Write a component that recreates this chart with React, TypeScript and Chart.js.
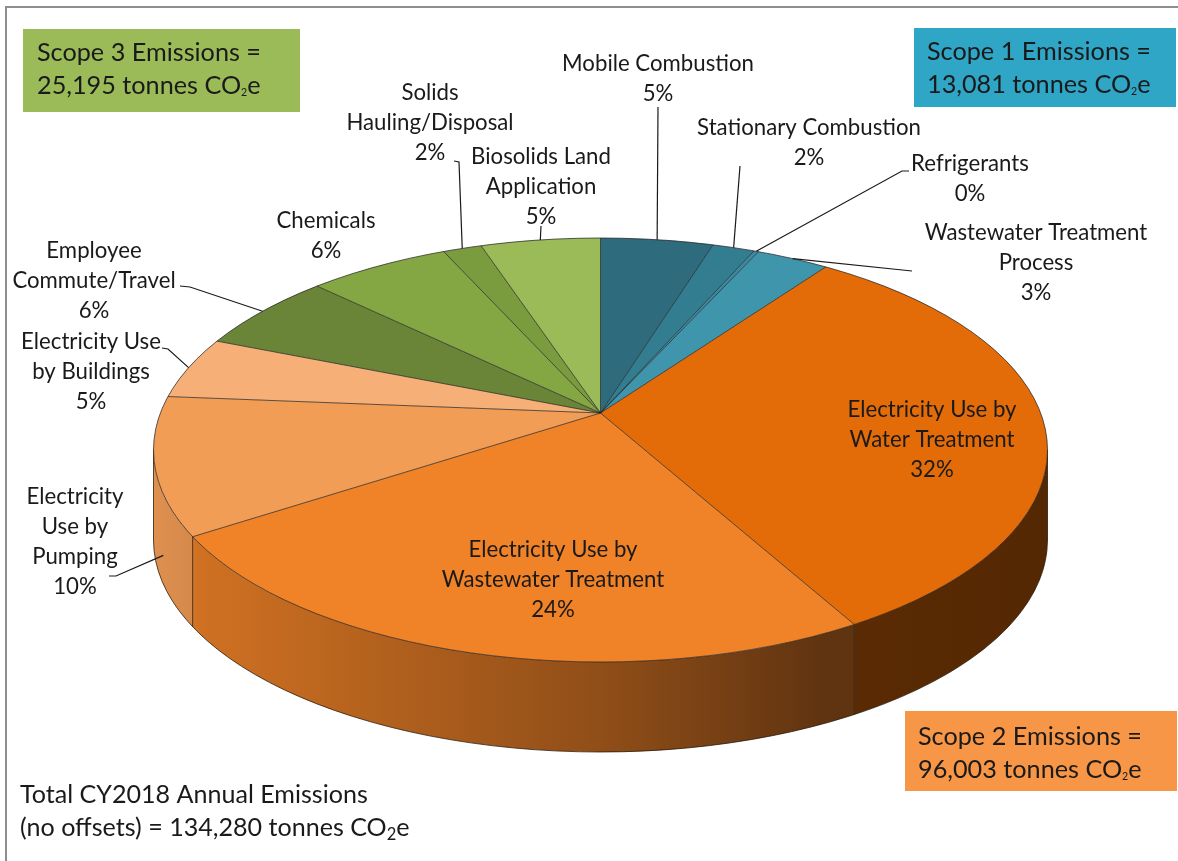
import React, { useEffect, useRef } from "react";
import { Chart, registerables } from "chart.js";

Chart.register(...registerables);

// ---------------- DATA ----------------
const categories = [
  "Mobile Combustion",
  "Stationary Combustion",
  "Refrigerants",
  "Wastewater Treatment Process",
  "Electricity Use by Water Treatment",
  "Electricity Use by Wastewater Treatment",
  "Electricity Use by Pumping",
  "Electricity Use by Buildings",
  "Employee Commute/Travel",
  "Chemicals",
  "Solids Hauling/Disposal",
  "Biosolids Land Application",
];
// share of total emissions (%)
const shares = [4.8, 1.8, 0.2, 3.1, 32.0, 23.9, 10.5, 4.8, 6.1, 6.05, 1.65, 5.1];
const percentText = ["5%", "2%", "0%", "3%", "32%", "24%", "10%", "5%", "6%", "6%", "2%", "5%"];

const scopeNames = ["Scope 1 Emissions =", "Scope 2 Emissions =", "Scope 3 Emissions ="];
const scopeTonnes = ["13,081", "96,003", "25,195"];
const totalTitle = "Total CY2018 Annual Emissions";
const totalTonnes = "134,280";

// ---------------- STYLE / LAYOUT ----------------
const sliceColors = [
  "#2D6B7D", "#327D90", "#3A8AA1", "#3F95AC",
  "#E36C09", "#F08228", "#F29D56", "#F6AF76",
  "#6A8538", "#84A744", "#7A9B3E", "#9BBB59",
];
const scopeColors = ["#2FA6C5", "#F79646", "#9BBB59"];

const W = 1178;
const H = 861;
// top-face ellipse, apex (seen centre) and the direction scaling used for the tilted view
const PIE = {
  cx: 600.5, cy: 450, rx: 447, ry: 212, depth: 90,
  apexX: 600.5, apexY: 413, sx: 555, sy: 258,
};
const wallStops: [number, number][] = [
  [0, 0.92], [0.06, 0.86], [0.5, 0.6], [0.75, 0.4], [1, 0.37],
];
const FAMILY = "Lato, 'Open Sans', 'DejaVu Sans', sans-serif";
const TEXT = "#1a1a1a";
const LINE_GAP = 29.8;

// label line breaks & positions (layout only)
const labelLines: string[][] = [
  ["Mobile Combustion"],
  ["Stationary Combustion"],
  ["Refrigerants"],
  ["Wastewater Treatment", "Process"],
  ["Electricity Use by", "Water Treatment"],
  ["Electricity Use by", "Wastewater Treatment"],
  ["Electricity", "Use by", "Pumping"],
  ["Electricity Use", "by Buildings"],
  ["Employee", "Commute/Travel"],
  ["Chemicals"],
  ["Solids", "Hauling/Disposal"],
  ["Biosolids Land", "Application"],
];
type LabelPos = { x: number; y: number; leader?: [number, number][]; t?: number; drop?: number };
const labelPos: LabelPos[] = [
  { x: 658, y: 64, leader: [[658, 107]], t: 0.5 },
  { x: 809, y: 128, leader: [[740, 166]], t: 0.5 },
  { x: 970, y: 164, leader: [[909, 171], [902, 171]], t: 0.5 },
  { x: 1036, y: 233, leader: [[912, 271]], t: 0.5 },
  { x: 932, y: 410 },
  { x: 553, y: 550 },
  { x: 75, y: 497, leader: [[109, 576], [116, 576]], t: 0.3, drop: 0.68 },
  { x: 91, y: 342, leader: [[162, 348], [168, 349]], t: 0.5 },
  { x: 94, y: 251, leader: [[180, 286], [190, 287]], t: 0.5 },
  { x: 326, y: 221 },
  { x: 430, y: 93, leader: [[454, 161], [459, 162]], t: 0.5 },
  { x: 541, y: 157, leader: [[541, 226]], t: 0.5 },
];
const scopeBoxes = [
  { x: 914, y: 28, w: 262, h: 79, tx: 927, ty: 52 },
  { x: 905, y: 711, w: 272, h: 80, tx: 918, ty: 737 },
  { x: 23, y: 29, w: 277, h: 83, tx: 37, ty: 53 },
];

// ---------------- helpers ----------------
function shade(hex: string, f: number): string {
  const n = parseInt(hex.slice(1), 16);
  const r = Math.round(((n >> 16) & 255) * f);
  const g = Math.round(((n >> 8) & 255) * f);
  const b = Math.round((n & 255) * f);
  return `rgb(${r},${g},${b})`;
}
function fitSize(ctx: CanvasRenderingContext2D, text: string, target: number): number {
  ctx.font = `100px ${FAMILY}`;
  return (100 * target) / ctx.measureText(text).width;
}
// where a slice boundary of library angle a meets the rim; returns x, y and rim parameter
function edgePoint(a: number): [number, number, number] {
  const { cx, cy, rx, ry, apexX, apexY, sx, sy } = PIE;
  const dx = sx * Math.cos(a);
  const dy = sy * Math.sin(a);
  const ox = apexX - cx;
  const oy = apexY - cy;
  const A = (dx / rx) ** 2 + (dy / ry) ** 2;
  const B = 2 * ((ox * dx) / (rx * rx) + (oy * dy) / (ry * ry));
  const C = (ox / rx) ** 2 + (oy / ry) ** 2 - 1;
  const t = (-B + Math.sqrt(B * B - 4 * A * C)) / (2 * A);
  const x = apexX + t * dx;
  const y = apexY + t * dy;
  let phi = Math.atan2((y - cy) / ry, (x - cx) / rx);
  while (phi < a - Math.PI) phi += 2 * Math.PI;
  while (phi > a + Math.PI) phi -= 2 * Math.PI;
  return [x, y, phi];
}
function rim(phi: number, dy = 0): [number, number] {
  return [PIE.cx + PIE.rx * Math.cos(phi), PIE.cy + PIE.ry * Math.sin(phi) + dy];
}
function drawCO2e(
  ctx: CanvasRenderingContext2D, prefix: string, x: number, y: number,
  size: number, subScale: number,
) {
  ctx.textAlign = "left";
  ctx.font = `${size}px ${FAMILY}`;
  const s1 = prefix + "CO";
  ctx.fillText(s1, x, y);
  let cx = x + ctx.measureText(s1).width;
  ctx.font = `${size * subScale}px ${FAMILY}`;
  ctx.fillText("2", cx, y + size * 0.28);
  cx += ctx.measureText("2").width;
  ctx.font = `${size}px ${FAMILY}`;
  ctx.fillText("e", cx, y);
}

const pie3d = {
  id: "pie3d",
  beforeDatasetsDraw(chart: any) {
    const ctx: CanvasRenderingContext2D = chart.ctx;
    const arcs = chart.getDatasetMeta(0).data;
    const { cx, cy, rx, ry, depth } = PIE;
    ctx.save();
    // side walls (front half only)
    const walls: number[] = [];
    arcs.forEach((arc: any, i: number) => {
      const p1 = edgePoint(arc.startAngle)[2];
      const p2 = edgePoint(arc.endAngle)[2];
      const a1 = Math.max(p1, 0);
      const a2 = Math.min(p2, Math.PI);
      if (p1 > 0 && p1 < Math.PI) walls.push(p1);
      if (a2 <= a1) return;
      const g = ctx.createLinearGradient(cx - rx, 0, cx + rx, 0);
      wallStops.forEach(([p, f]) => g.addColorStop(p, shade(sliceColors[i], f)));
      ctx.beginPath();
      ctx.ellipse(cx, cy, rx, ry, 0, a1, a2);
      ctx.ellipse(cx, cy + depth, rx, ry, 0, a2, a1, true);
      ctx.closePath();
      ctx.fillStyle = g;
      ctx.fill();
    });
    // wall edges
    ctx.strokeStyle = "rgba(35,20,5,0.75)";
    ctx.lineWidth = 1;
    ctx.beginPath();
    ctx.ellipse(cx, cy + depth, rx, ry, 0, 0, Math.PI);
    ctx.stroke();
    [0, Math.PI, ...walls].forEach((phi) => {
      const [x, y] = rim(phi);
      ctx.beginPath();
      ctx.moveTo(x, y);
      ctx.lineTo(x, y + depth);
      ctx.stroke();
    });
    ctx.restore();
    // the library's circular pie, tilted: clip to the rim and stretch around the apex
    const a0 = arcs[0];
    ctx.save();
    ctx.beginPath();
    ctx.ellipse(cx, cy, rx, ry, 0, 0, Math.PI * 2);
    ctx.clip();
    ctx.translate(PIE.apexX, PIE.apexY);
    ctx.scale(PIE.sx / a0.outerRadius, PIE.sy / a0.outerRadius);
    ctx.translate(-a0.x, -a0.y);
  },
  afterDatasetsDraw(chart: any) {
    const ctx: CanvasRenderingContext2D = chart.ctx;
    ctx.restore();
    const arcs = chart.getDatasetMeta(0).data;
    const { cx, cy, rx, ry } = PIE;
    ctx.save();
    ctx.strokeStyle = "rgba(30,30,30,0.8)";
    ctx.lineWidth = 0.9;
    arcs.forEach((arc: any) => {
      const [x, y] = edgePoint(arc.startAngle);
      ctx.beginPath();
      ctx.moveTo(PIE.apexX, PIE.apexY);
      ctx.lineTo(x, y);
      ctx.stroke();
    });
    ctx.beginPath();
    ctx.ellipse(cx, cy, rx, ry, 0, 0, Math.PI * 2);
    ctx.stroke();
    ctx.restore();
  },
  afterDraw(chart: any) {
    const ctx: CanvasRenderingContext2D = chart.ctx;
    const arcs = chart.getDatasetMeta(0).data;
    ctx.save();
    // frame
    ctx.strokeStyle = "#8e8e8e";
    ctx.lineWidth = 2;
    ctx.strokeRect(6, 7, W, H);

    const labelSize = fitSize(ctx, "Stationary Combustion", 224);
    const boxSize = fitSize(ctx, "Scope 1 Emissions =", 224);
    const totalSize = fitSize(ctx, totalTitle, 348);

    // leader lines
    ctx.strokeStyle = "#1a1a1a";
    ctx.lineWidth = 1.2;
    labelPos.forEach((lp, i) => {
      if (!lp.leader) return;
      const arc = arcs[i];
      const a = arc.startAngle + (lp.t ?? 0.5) * (arc.endAngle - arc.startAngle);
      const e = edgePoint(a);
      const end = [e[0], e[1] + (lp.drop ?? 0) * PIE.depth];
      ctx.beginPath();
      ctx.moveTo(lp.leader[0][0], lp.leader[0][1]);
      for (let k = 1; k < lp.leader.length; k++) ctx.lineTo(lp.leader[k][0], lp.leader[k][1]);
      ctx.lineTo(end[0], end[1]);
      ctx.stroke();
    });

    // data labels
    ctx.fillStyle = TEXT;
    ctx.textAlign = "center";
    ctx.textBaseline = "middle";
    ctx.font = `${labelSize}px ${FAMILY}`;
    labelPos.forEach((lp, i) => {
      const lines = [...labelLines[i], percentText[i]];
      lines.forEach((ln, k) => ctx.fillText(ln, lp.x, lp.y + k * LINE_GAP));
    });

    // scope boxes
    scopeBoxes.forEach((b, i) => {
      ctx.fillStyle = scopeColors[i];
      ctx.fillRect(b.x, b.y, b.w, b.h);
      ctx.fillStyle = TEXT;
      ctx.textAlign = "left";
      ctx.font = `${boxSize}px ${FAMILY}`;
      ctx.fillText(scopeNames[i], b.tx, b.ty);
      drawCO2e(ctx, `${scopeTonnes[i]} tonnes `, b.tx, b.ty + 33, boxSize, 0.42);
    });

    // total
    ctx.fillStyle = TEXT;
    ctx.textAlign = "left";
    ctx.font = `${totalSize}px ${FAMILY}`;
    ctx.fillText(totalTitle, 20, 795);
    drawCO2e(ctx, `(no offsets) = ${totalTonnes} tonnes `, 20, 828, totalSize, 0.66);
    ctx.restore();
  },
};

export default function App() {
  const ref = useRef<HTMLCanvasElement | null>(null);
  useEffect(() => {
    document.body.style.margin = "0";
    document.body.style.background = "#ffffff";
    if (!ref.current) return;
    const chart = new Chart(ref.current, {
      type: "pie",
      data: {
        labels: categories,
        datasets: [
          {
            data: shares,
            backgroundColor: sliceColors,
            borderWidth: 0,
          },
        ],
      },
      options: {
        responsive: false,
        animation: false,
        events: [],
        layout: { padding: 0 },
        plugins: {
          legend: { display: false },
          tooltip: { enabled: false },
          title: { display: false },
        },
      },
      plugins: [pie3d as any],
    });
    return () => chart.destroy();
  }, []);
  return (
    <div style={{ width: W, height: H, background: "#fff" }}>
      <canvas ref={ref} width={W} height={H} style={{ display: "block" }} />
    </div>
  );
}
